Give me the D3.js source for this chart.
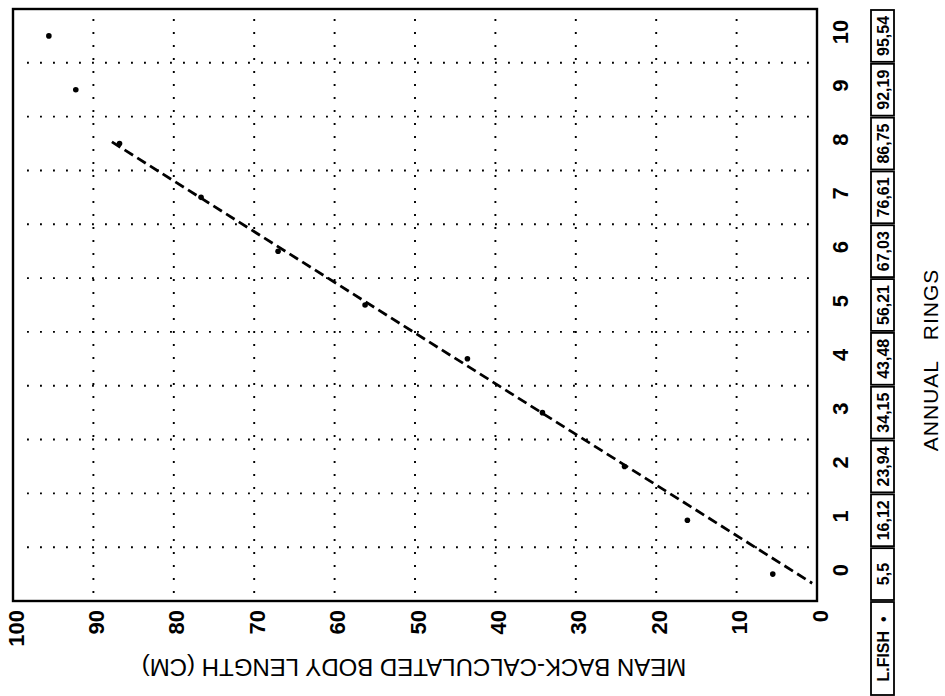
<!DOCTYPE html>
<html>
<head>
<meta charset="utf-8">
<script src="https://cdn.jsdelivr.net/npm/d3@7"></script>
<style>
	body { margin: 0; background: #fff; }
	svg { display: block; }
	text { font-family: "Liberation Sans", Arial, sans-serif; fill: #000; }
</style>
</head>
<body>
<div id="chart"></div>
<script>
// rings on the vertical axis, body length on the horizontal one (page is turned)
var rings = [0, 1, 2, 3, 4, 5, 6, 7, 8, 9, 10];
var lengths = [5.5, 16.12, 23.94, 34.15, 43.48, 56.21, 67.03, 76.61, 86.75, 92.19, 95.54];
var tableLabels = ["5,5", "16,12", "23,94", "34,15", "43,48", "56,21", "67,03", "76,61", "86,75", "92,19", "95,54"];
var lengthTicks = [100, 90, 80, 70, 60, 50, 40, 30, 20, 10, 0];
var fitRings = [8.03, -0.17];
var fitLengths = [87.7, 0.6];

var width = 945, height = 696;
var plotLeft = 13, plotRight = 817, plotTop = 9, plotBottom = 601;

var svg = d3.select("#chart")
	.append("svg")
	.attr("width", width)
	.attr("height", height);

var x = d3.scaleLinear().domain([100, 0]).range([plotLeft, plotRight]);
var y = d3.scaleBand().domain(rings).range([plotBottom, plotTop]).padding(0);
var yc = function (r) { return y(r) + y.bandwidth() / 2; };
// continuous version of the band scale for the fitted line
var yl = d3.scaleLinear().domain([-0.5, 10.5]).range([plotBottom, plotTop]);

// dotted grid
var grid = svg.append("g")
	.attr("stroke", "#000")
	.attr("stroke-width", 1.9)
	.attr("stroke-dasharray", "1.9,11.1");
grid.selectAll("line.v")
	.data(lengthTicks.filter(function (d) { return d > 0 && d < 100; }))
	.enter().append("line")
	.attr("class", "v")
	.attr("x1", function (d) { return x(d); })
	.attr("x2", function (d) { return x(d); })
	.attr("y1", plotTop + 10)
	.attr("y2", plotBottom);
grid.selectAll("line.h")
	.data(rings.slice(1))
	.enter().append("line")
	.attr("class", "h")
	.attr("x1", plotLeft + 14)
	.attr("x2", plotRight)
	.attr("y1", function (d) { return y(d) + y.bandwidth(); })
	.attr("y2", function (d) { return y(d) + y.bandwidth(); });

// frame
svg.append("rect")
	.attr("x", plotLeft)
	.attr("y", plotTop)
	.attr("width", plotRight - plotLeft)
	.attr("height", plotBottom - plotTop)
	.attr("fill", "none")
	.attr("stroke", "#000")
	.attr("stroke-width", 2.4);

// fitted line
svg.append("path")
	.datum(d3.zip(fitLengths, fitRings))
	.attr("d", d3.line()
		.x(function (d) { return x(d[0]); })
		.y(function (d) { return yl(d[1]); }))
	.attr("fill", "none")
	.attr("stroke", "#000")
	.attr("stroke-width", 2.8)
	.attr("stroke-dasharray", "10,5");

// points
svg.selectAll("circle.pt")
	.data(rings)
	.enter().append("circle")
	.attr("class", "pt")
	.attr("cx", function (d, i) { return x(lengths[i]); })
	.attr("cy", function (d) { return yc(d); })
	.attr("r", 2.8)
	.attr("fill", "#000");

// length tick labels, turned
svg.selectAll("text.xt")
	.data(lengthTicks)
	.enter().append("text")
	.attr("class", "xt")
	.attr("transform", function (d) { return "translate(" + (x(d) + 3) + "," + (plotBottom + 9) + ") rotate(-90)"; })
	.attr("text-anchor", "end")
	.attr("dominant-baseline", "central")
	.attr("font-size", 22)
	.attr("font-weight", "bold")
	.text(function (d) { return d; });

// ring tick labels
svg.selectAll("text.yt")
	.data(rings)
	.enter().append("text")
	.attr("class", "yt")
	.attr("transform", function (d) { return "translate(" + 840 + "," + (yc(d) - 4) + ") rotate(-90)"; })
	.attr("text-anchor", "middle")
	.attr("dominant-baseline", "central")
	.attr("font-size", 22)
	.attr("font-weight", "bold")
	.text(function (d) { return d; });

// axis titles
svg.append("text")
	.attr("transform", "translate(414,667) rotate(180)")
	.attr("text-anchor", "middle")
	.attr("dominant-baseline", "central")
	.attr("font-size", 24)
	.text("MEAN BACK-CALCULATED BODY LENGTH (CM)");

svg.append("text")
	.attr("transform", "translate(930,360) rotate(-90)")
	.attr("text-anchor", "middle")
	.attr("dominant-baseline", "central")
	.attr("font-size", 21)
	.attr("letter-spacing", 1)
	.attr("xml:space", "preserve")
	.text("ANNUAL   RINGS");

// value table
var tx = 871, tw = 23;
var table = svg.append("g");
table.selectAll("rect")
	.data(rings)
	.enter().append("rect")
	.attr("x", tx)
	.attr("y", function (d) { return y(d) + 1; })
	.attr("width", tw)
	.attr("height", y.bandwidth() - 2)
	.attr("fill", "none")
	.attr("stroke", "#000")
	.attr("stroke-width", 1.8);
table.selectAll("text")
	.data(rings)
	.enter().append("text")
	.attr("transform", function (d) { return "translate(" + (tx + tw / 2 + 1) + "," + yc(d) + ") rotate(-90)"; })
	.attr("text-anchor", "middle")
	.attr("dominant-baseline", "central")
	.attr("font-size", 16)
	.attr("font-weight", "bold")
	.text(function (d, i) { return tableLabels[i]; });

table.append("rect")
	.attr("x", tx)
	.attr("y", plotBottom + 1)
	.attr("width", tw)
	.attr("height", 93)
	.attr("fill", "none")
	.attr("stroke", "#000")
	.attr("stroke-width", 1.8);
table.append("text")
	.attr("transform", "translate(" + (tx + tw / 2 + 1) + "," + (plotBottom + 48) + ") rotate(-90)")
	.attr("text-anchor", "middle")
	.attr("dominant-baseline", "central")
	.attr("font-size", 16)
	.attr("font-weight", "bold")
	.attr("xml:space", "preserve")
	.text("L.FISH  \u2022");
</script>
</body>
</html>
